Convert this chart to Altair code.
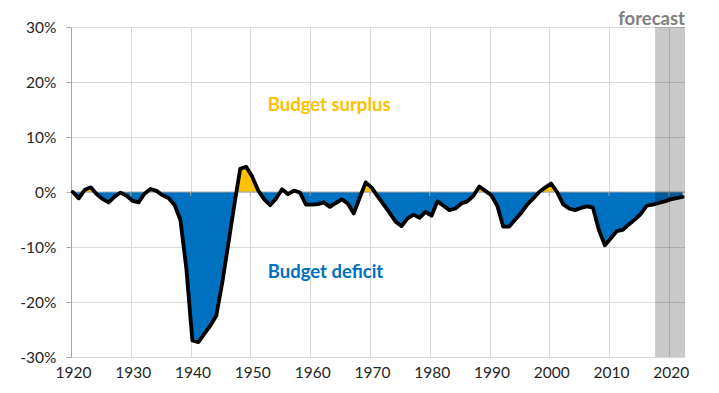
import altair as alt
import pandas as pd

# ---- data (budget balance, % of GDP) ----
years = list(range(1920, 2023))
balance = (
    [0.0, -1.15, 0.4, 0.85, -0.4, -1.3, -1.9, -0.85, -0.1, -0.7]          # 1920s
    + [-1.6, -1.9, -0.3, 0.55, 0.2, -0.6, -1.1, -2.3, -5.1, -14.0]        # 1930s
    + [-27.0, -27.3, -25.8, -24.3, -22.5, -16.5, -9.5, -2.5, 4.2, 4.6]    # 1940s
    + [2.8, 0.3, -1.3, -2.4, -1.2, 0.5, -0.4, 0.25, -0.1, -2.3]           # 1950s
    + [-2.3, -2.2, -1.9, -2.7, -2.0, -1.35, -2.1, -3.9, -1.0, 1.75]       # 1960s
    + [0.8, -0.8, -2.3, -3.8, -5.4, -6.2, -4.8, -4.1, -4.7, -3.6]         # 1970s
    + [-4.3, -1.7, -2.5, -3.3, -3.0, -2.1, -1.7, -0.7, 1.0, 0.2]          # 1980s
    + [-0.6, -2.5, -6.3, -6.3, -5.0, -3.8, -2.3, -1.2, 0.0, 0.8]          # 1990s
    + [1.55, 0.0, -2.2, -3.0, -3.3, -2.9, -2.6, -2.85, -6.9, -9.7]        # 2000s
    + [-8.4, -7.1, -6.9, -5.9, -5.0, -4.0, -2.5, -2.3, -2.0, -1.7]        # 2010s
    + [-1.35, -1.1, -0.9]                                                  # 2020s
)
year_offset = 0.3                      # fiscal-year placement within the year
x_ticks = list(range(1920, 2030, 10))
zero_ticks = list(range(1930, 2030, 10))
y_ticks = [-30, -20, -10, 0, 10, 20, 30]
x_domain = [1920, 2022.7]
y_domain = [-30, 30]
forecast_start = [2017.7]
forecast_end = [2022.7]

labels_text = ["Budget surplus", "Budget deficit"]
labels_x = [1952.9, 1952.9]
labels_y = [15.8, -14.5]
labels_color = ["#FFC000", "#0070C0"]
forecast_text = ["forecast"]
forecast_text_y = [31.5]

FONT = "Lato"
BLUE = "#0070C0"
GOLD = "#FFC000"

# ---- tables ----
df = pd.DataFrame({"year": years, "balance": balance})
df["x"] = df["year"] + year_offset

# fill table: add zero-crossing vertices so the two colours split exactly at 0
rows = []
xs_, vs_ = df["x"].tolist(), df["balance"].tolist()
for i in range(len(xs_)):
    if i > 0 and vs_[i - 1] * vs_[i] < 0:
        x0, v0, x1, v1 = xs_[i - 1], vs_[i - 1], xs_[i], vs_[i]
        rows.append((x0 + (x1 - x0) * v0 / (v0 - v1), 0.0))
    rows.append((xs_[i], vs_[i]))
fill = pd.DataFrame(rows, columns=["x", "v"])
fill["pos"] = fill["v"].clip(lower=0)
fill["neg"] = fill["v"].clip(upper=0)
fill["zero"] = 0.0

xscale = alt.Scale(domain=x_domain, nice=False, zero=False)
yscale = alt.Scale(domain=y_domain, nice=False)

x_axis = alt.Axis(
    values=x_ticks, format="d", title=None, grid=True, gridColor="#D9D9D9",
    ticks=False, domain=False, labelFont=FONT, labelFontSize=15.5,
    labelColor="#262626", labelPadding=8, labelOffset=2, labelFlush=False,
    labelOverlap=False,
)
y_axis = alt.Axis(
    values=y_ticks, title=None, grid=True, gridColor="#D9D9D9",
    labelExpr="datum.value + '%'", domain=True, domainColor="#A6A6A6",
    ticks=True, tickColor="#A6A6A6", tickSize=5, labelFont=FONT,
    labelFontSize=15.5, labelColor="#262626", labelPadding=10,
    labelFlush=False,
)


def X(field):
    return alt.X(field, scale=xscale, axis=x_axis)


def Y(field):
    return alt.Y(field, scale=yscale, axis=y_axis)


neg_area = alt.Chart(fill).mark_area(color=BLUE).encode(
    x=X("x:Q"), y=Y("neg:Q"), y2="zero:Q"
)
pos_area = alt.Chart(fill).mark_area(color=GOLD).encode(
    x=X("x:Q"), y=Y("pos:Q"), y2="zero:Q"
)
zero_rule = alt.Chart(pd.DataFrame({"y": [0.0]})).mark_rule(
    color="#A6A6A6", strokeWidth=1
).encode(y=Y("y:Q"))

zero_tick_df = pd.DataFrame({"x": zero_ticks, "y": 0.0, "y2": -0.75})
zero_tick_marks = alt.Chart(zero_tick_df).mark_rule(
    color="#A6A6A6", strokeWidth=1
).encode(x=X("x:Q"), y=Y("y:Q"), y2="y2:Q")

line = alt.Chart(df).mark_line(
    color="black", strokeWidth=3.8, strokeJoin="round", strokeCap="round"
).encode(x=X("x:Q"), y=Y("balance:Q"))

forecast_rect = alt.Chart(
    pd.DataFrame({"x": forecast_start, "x2": forecast_end})
).mark_rect(color="black", opacity=0.21).encode(x=X("x:Q"), x2="x2:Q")

ann = pd.DataFrame({"t": labels_text, "x": labels_x, "y": labels_y, "c": labels_color})
annotations = alt.Chart(ann).mark_text(
    align="left", baseline="middle", font=FONT, fontSize=18.5, fontWeight="bold"
).encode(
    x=X("x:Q"), y=Y("y:Q"), text="t:N", color=alt.Color("c:N", scale=None)
)

fc = pd.DataFrame({"t": forecast_text, "x": [x_domain[1]], "y": forecast_text_y})
forecast_label = alt.Chart(fc).mark_text(
    align="right", baseline="middle", font=FONT, fontSize=18.5,
    fontWeight="bold", color="#7F7F7F",
).encode(x=X("x:Q"), y=Y("y:Q"), text="t:N")

chart = alt.layer(
    neg_area, pos_area, zero_rule, zero_tick_marks, line, forecast_rect,
    annotations, forecast_label,
).properties(
    width=614, height=330,
    autosize=alt.AutoSizeParams(type="none"),
    padding={"left": 63, "top": 19, "right": 26, "bottom": 28},
).configure_view(stroke=None)

chart.save("out.html", embed_options={"renderer": "svg", "actions": False})
